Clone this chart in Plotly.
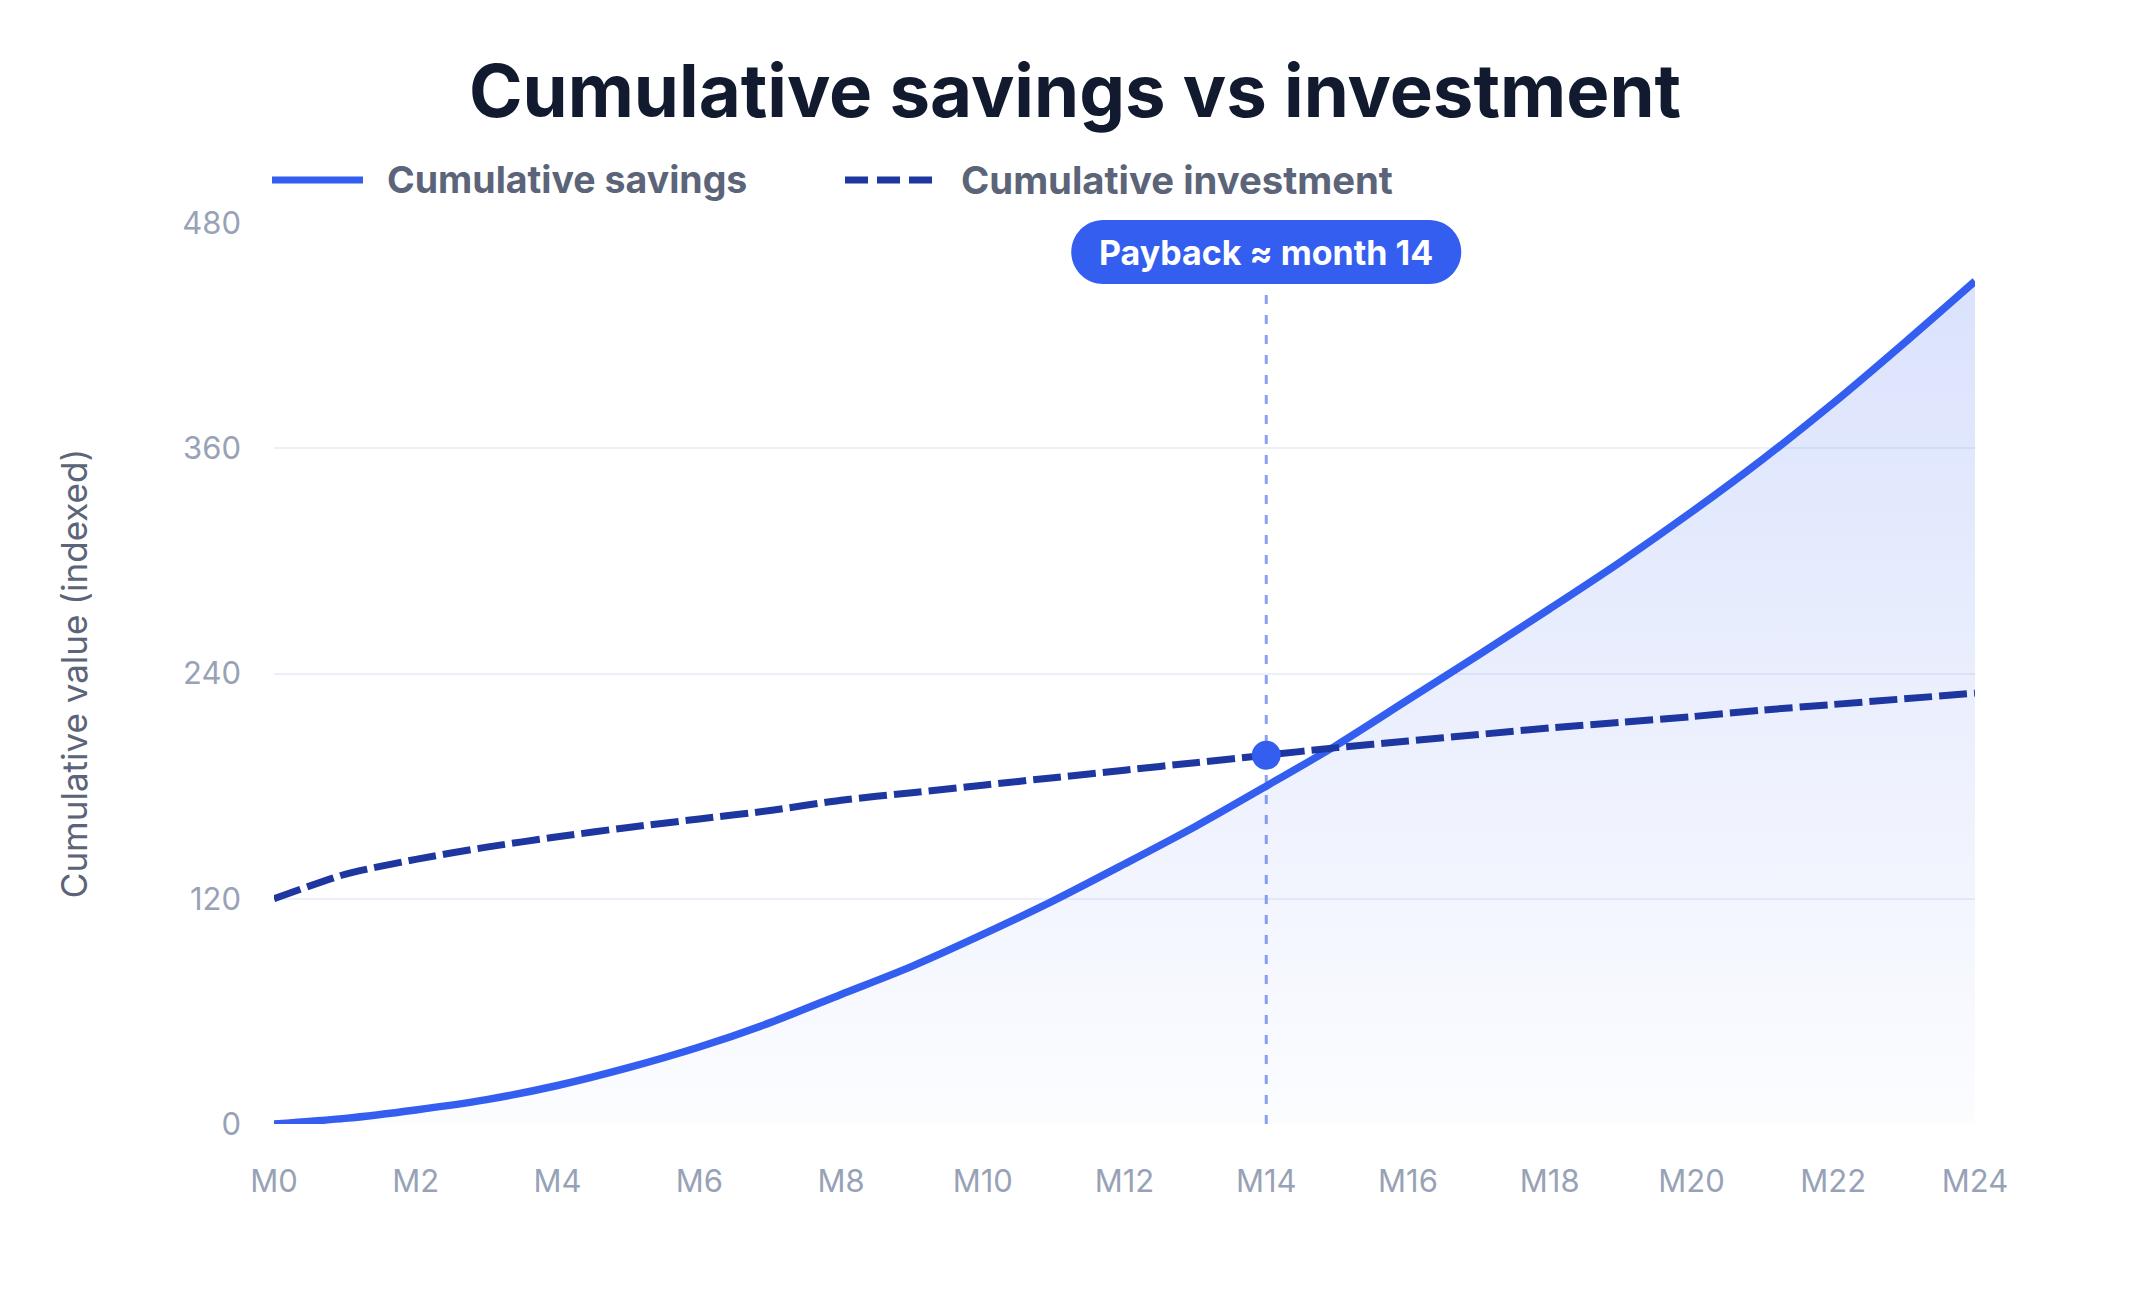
import plotly.graph_objects as go

# ---- data ----
months = list(range(25))
month_labels = [f"M{m}" for m in months]
tick_months = months[::2]
tick_labels = [f"M{m}" for m in tick_months]

savings = [0, 3, 7.5, 13, 20.5, 30, 41, 54, 69, 84, 101, 119, 138.5, 158.5,
           180, 202, 226, 250, 274.5, 299.5, 326, 354, 384, 416, 449]
investment = [120, 133, 141, 147.5, 153, 158, 162.5, 167, 172.5, 176.5, 180.5,
              184.5, 188.5, 192.5, 196.5, 200.5, 204, 207.5, 211, 214, 217,
              220.5, 223.5, 226.5, 229.5]

payback_month = 14
payback_label = "Payback ≈ month 14"
y_ticks = [0, 120, 240, 360, 480]

series_names = ["Cumulative savings", "Cumulative investment"]
title_text = "Cumulative savings vs investment"
y_title = "Cumulative value (indexed)"

# ---- styles ----
FONT = "Inter, 'Noto Sans', sans-serif"
C_SAV = "#335ef0"
C_INV = "#1d36a0"
C_GRID = "#edf0f9"
C_TICK = "#98a2b6"
C_LABEL = "#5b6478"

W, H = 2150, 1300
L, R, T, B = 274, 175, 223, 176
PW, PH = W - L - R, H - T - B

fig = go.Figure()

fig.add_trace(go.Scatter(
    x=months, y=savings, mode="lines", name=series_names[0],
    line=dict(color=C_SAV, width=7.5, shape="spline", smoothing=0.8),
    fill="tozeroy",
    fillgradient=dict(type="vertical",
                      colorscale=[[0, "rgba(51,94,240,0.015)"], [1, "rgba(51,94,240,0.18)"]]),
    showlegend=False, hoverinfo="skip",
))
fig.add_trace(go.Scatter(
    x=months, y=investment, mode="lines", name=series_names[1],
    line=dict(color=C_INV, width=7, dash="28px,7px", shape="spline", smoothing=0.6),
    showlegend=False, hoverinfo="skip",
))
fig.add_trace(go.Scatter(
    x=[payback_month], y=[investment[payback_month]], mode="markers",
    marker=dict(color=C_SAV, size=29), showlegend=False, hoverinfo="skip",
))

shapes = []
# vertical payback line
shapes.append(dict(type="line", xref="x", yref="y", x0=payback_month, x1=payback_month,
                   y0=0, y1=447, line=dict(color="#8aa0f6", width=3, dash="9px,11px"),
                   layer="between"))

# rounded pill label (pixel-sized path anchored at payback month, top of plot)
hw, r = 195, 32
top, bot = 3, -61
cy = (top + bot) / 2
k = 0.5523 * r
xi = hw - r
pill = (f"M {-xi},{top} L {xi},{top} "
        f"C {xi + k},{top} {hw},{cy + k} {hw},{cy} "
        f"C {hw},{cy - k} {xi + k},{bot} {xi},{bot} "
        f"L {-xi},{bot} "
        f"C {-xi - k},{bot} {-hw},{cy - k} {-hw},{cy} "
        f"C {-hw},{cy + k} {-xi - k},{top} {-xi},{top} Z")
shapes.append(dict(type="path", xref="x", yref="paper", xsizemode="pixel", ysizemode="pixel",
                   xanchor=payback_month, yanchor=1, path=pill,
                   fillcolor=C_SAV, line=dict(width=0), layer="above"))

# manual legend
def px_x(px):
    return (px - L) / PW

def px_y(py):
    return (H - B - py) / PH

leg_y = px_y(180)
shapes.append(dict(type="line", xref="paper", yref="paper", x0=px_x(272), x1=px_x(363),
                   y0=leg_y, y1=leg_y, line=dict(color=C_SAV, width=7)))
shapes.append(dict(type="line", xref="paper", yref="paper", x0=px_x(845), x1=px_x(932),
                   y0=leg_y, y1=leg_y, line=dict(color=C_INV, width=7, dash="23px,9px")))

annotations = [
    dict(text=f"<b>{series_names[0]}</b>", xref="paper", yref="paper", x=px_x(385), y=leg_y,
         xanchor="left", yanchor="middle", showarrow=False,
         font=dict(family=FONT, size=37.5, color=C_LABEL, weight=700)),
    dict(text=f"<b>{series_names[1]}</b>", xref="paper", yref="paper", x=px_x(959), y=leg_y,
         xanchor="left", yanchor="middle", showarrow=False,
         font=dict(family=FONT, size=38.3, color=C_LABEL, weight=700)),
    dict(text=f"<b>{payback_label}</b>", xref="x", yref="paper", x=payback_month, y=1,
         yshift=-29, xanchor="center", yanchor="middle", showarrow=False,
         font=dict(family=FONT, size=34, color="white")),
]

fig.update_layout(
    width=W, height=H,
    margin=dict(l=L, r=R, t=T, b=B, autoexpand=False),
    paper_bgcolor="white", plot_bgcolor="white",
    font=dict(family=FONT),
    title=dict(text=f"<b>{title_text}</b>", x=0.5, xref="container", xanchor="center",
               y=1 - 92 / H, yref="container", yanchor="middle",
               font=dict(family=FONT, size=72.5, color="#111a2e", weight=800)),
    shapes=shapes, annotations=annotations, showlegend=False,
)
fig.update_xaxes(range=[0, 24], tickvals=tick_months, ticktext=tick_labels,
                 showgrid=False, zeroline=False, showline=False, ticks="",
                 ticklabelstandoff=36,
                 tickfont=dict(family=FONT, size=31, color=C_TICK))
fig.update_yaxes(range=[0, 480], tickvals=y_ticks, showgrid=True, gridcolor=C_GRID,
                 gridwidth=2, zeroline=False, showline=False, ticks="",
                 ticklabelstandoff=32,
                 tickfont=dict(family=FONT, size=31, color=C_TICK),
                 title=dict(text=y_title, standoff=83,
                            font=dict(family=FONT, size=35, color=C_LABEL)))

fig.write_html("out.html")
